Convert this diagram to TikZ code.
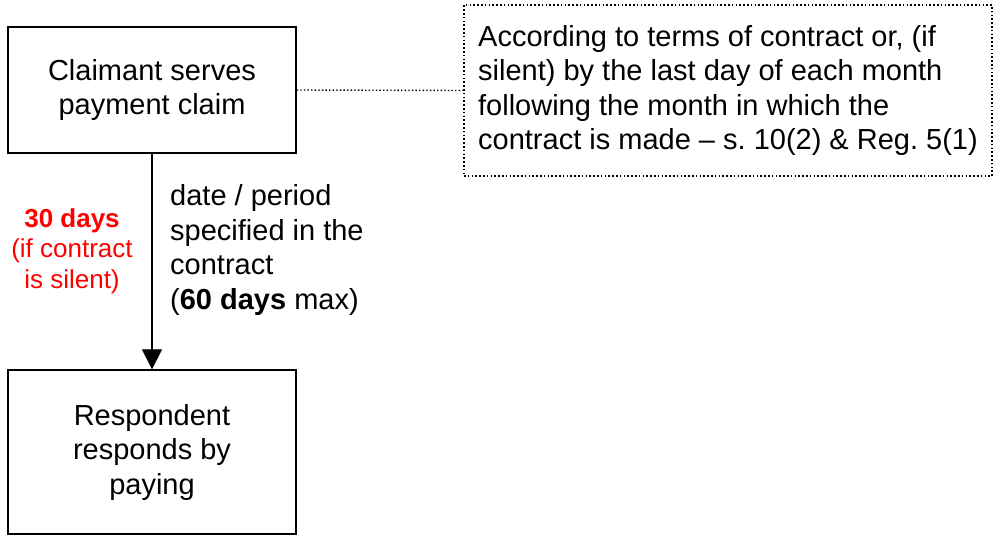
\documentclass[tikz,border=0pt]{standalone}
\usepackage{fontspec}
\setmainfont{Liberation Sans}
\usetikzlibrary{arrows.meta}
\frenchspacing
\begin{document}
\begin{tikzpicture}[x=1pt,y=-1pt,
  mainfont/.style={font=\fontsize{29}{34.5}\selectfont},
  box/.style={draw,line width=1.3pt,minimum width=288pt,align=center,mainfont,inner sep=0pt},
  notebox/.style={draw,line width=1.5pt,dash pattern=on 1.6pt off 2.2pt,minimum height=171pt,
    minimum width=528pt,inner sep=0pt,align=left,mainfont},
  conn/.style={line width=1.4pt,dash pattern=on 1.4pt off 2.2pt},
  arrowline/.style={line width=1.1pt,-{Triangle[length=20pt,width=20pt]}},
  lbl/.style={align=left,mainfont,inner sep=0pt},
  redlbl/.style={align=center,text=red,font=\fontsize{26}{30.5}\selectfont,inner sep=0pt}]
\useasboundingbox (0,0) rectangle (994,536);
\node[box,minimum height=126pt] (claim) at (152,90) {Claimant serves\\payment claim};
\node[box,minimum height=164pt] (resp) at (152,452) {Respondent\\responds by\\paying};
\node[notebox] (note) at (728,90.5) {According to terms of contract or, (if\\silent) by the last day of each month\\following the month in which the\\contract is made -- s. 10(2) \& Reg. 5(1)};
\draw[conn] (claim.east) -- (note.west);
\draw[arrowline] (claim.south) -- (resp.north);
\node[lbl,anchor=west] (spec) at (170,250) {date / period\\specified in the\\contract\\(\textbf{60 days} max)};
\node[redlbl] (silent) at (72,251) {\textbf{30 days}\\(if contract\\is silent)};
\end{tikzpicture}
\end{document}
